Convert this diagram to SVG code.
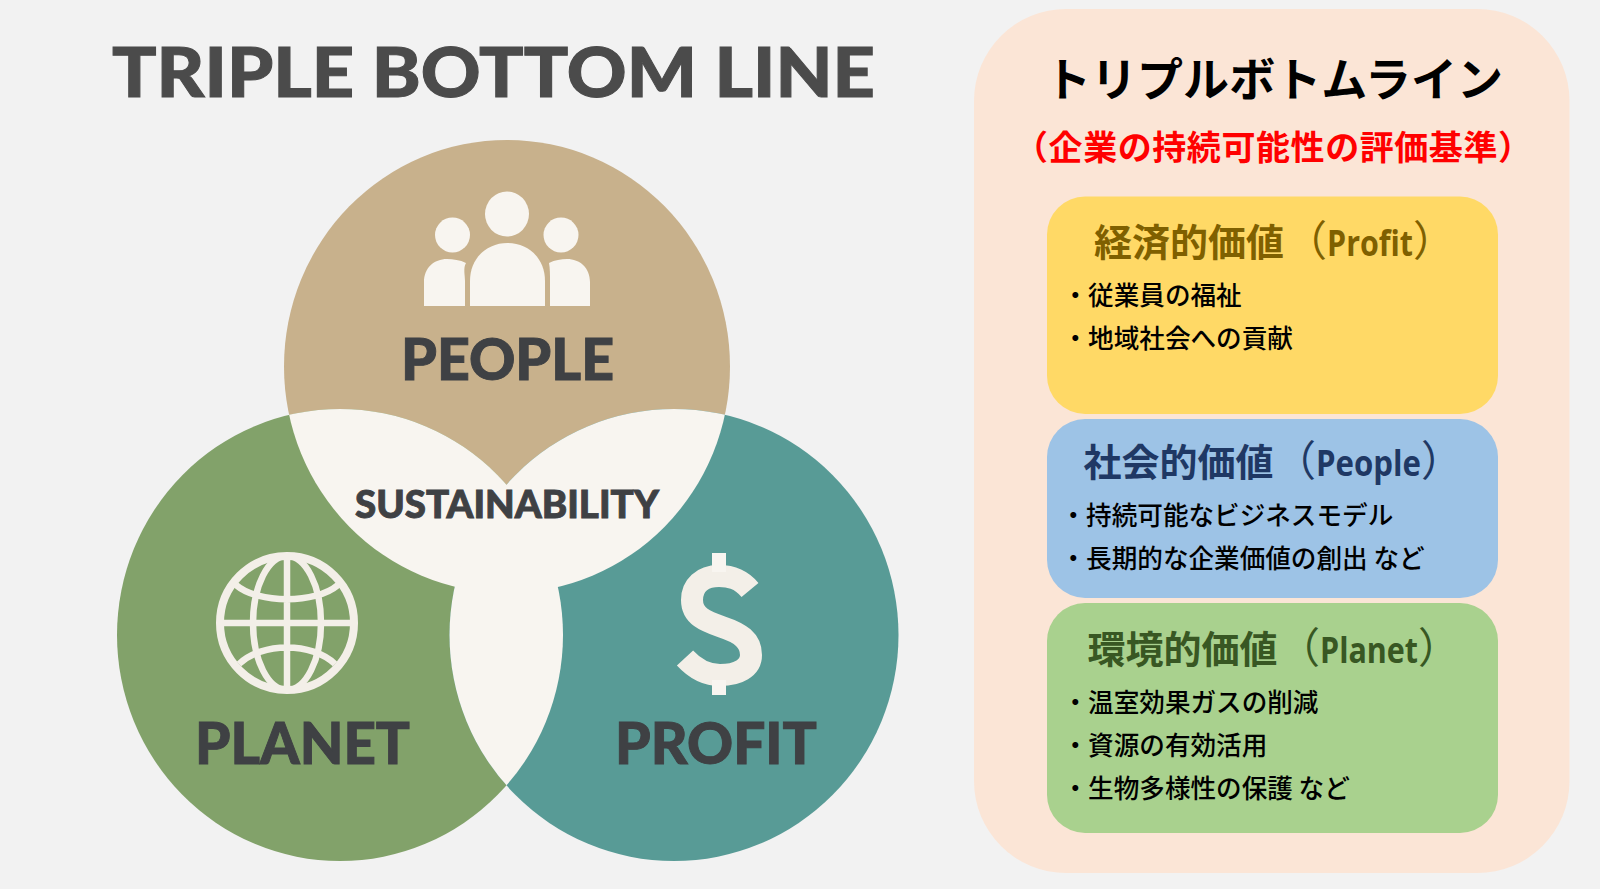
<svg xmlns="http://www.w3.org/2000/svg" width="1600" height="889" viewBox="0 0 1600 889">
<style>
.lbl{font-family:"Lato","Inter","Liberation Sans",sans-serif;font-weight:900;fill:#3f4144;stroke:#3f4144;stroke-width:.9}
.ic{fill:#f8f5f0}
.gl{fill:none;stroke:#f3efe8;stroke-width:6.5}
.jp{font-family:"Noto Sans CJK JP","Noto Sans",sans-serif}
.h{font-weight:700;font-size:38px}
.p{font-weight:400;font-size:42px}
.l{font-family:"Open Sans","Noto Sans",sans-serif;font-weight:700;font-size:36px}
.b{font-weight:500;font-size:25.6px;fill:#000}
.box{stroke:none}
</style>
<defs>
<clipPath id="cPeople"><ellipse cx="507" cy="366.500" rx="223" ry="226.500"/></clipPath>
<clipPath id="cPlanet"><ellipse cx="340" cy="635" rx="223" ry="226"/></clipPath>
</defs>
<rect width="1600" height="889" fill="#f2f2f2"/>
<text id="main-title" class="lbl" x="112" y="97" font-size="68" textLength="763" lengthAdjust="spacingAndGlyphs" style="fill:#4b4b4b;stroke:#4b4b4b;stroke-width:1">TRIPLE BOTTOM LINE</text>
<g id="venn">
<g id="people">
<ellipse cx="507" cy="366.500" rx="223" ry="226.500" fill="#c8b18c"/>
</g>
<g id="planet">
<ellipse cx="340" cy="635" rx="223" ry="226" fill="#82a26a"/>
</g>
<g id="profit">
<ellipse cx="674" cy="635" rx="224.500" ry="226" fill="#589b96"/>
</g>
<g id="sustainability">
<ellipse cx="340" cy="635" rx="223" ry="226" fill="#f8f5f0" clip-path="url(#cPeople)"/>
<ellipse cx="674" cy="635" rx="224.500" ry="226" fill="#f8f5f0" clip-path="url(#cPeople)"/>
<ellipse cx="674" cy="635" rx="224.500" ry="226" fill="#f8f5f0" clip-path="url(#cPlanet)"/>
<text class="lbl" x="355" y="518" font-size="38" textLength="304" lengthAdjust="spacingAndGlyphs">SUSTAINABILITY</text>
</g>
<g id="people-content">
<ellipse class="ic" cx="507" cy="214" rx="22" ry="22.500"/>
<ellipse class="ic" cx="452.500" cy="235" rx="17.500" ry="17.500"/>
<ellipse class="ic" cx="561" cy="235" rx="17.500" ry="17.500"/>
<path class="ic" d="M470 306V281C470 258 487 243 507.500 243C528 243 545 258 545 281V306Z"/>
<path class="ic" d="M424 306V282C424 268 434 259 447 259C453 259 460 260 466 263C463 268 465 275 465 281V306Z"/>
<path class="ic" d="M590 306V282C590 268 580 259 567 259C561 259 555 260 549 263C550 268 550 275 550 281V306Z"/>
<text class="lbl" x="401" y="380" font-size="57" textLength="213" lengthAdjust="spacingAndGlyphs">PEOPLE</text>
</g>
<g id="planet-content">
<circle class="gl" cx="287" cy="623" r="67" style="stroke-width:8"/>
<ellipse class="gl" cx="287" cy="623" rx="34" ry="67"/>
<path class="gl" d="M287 556V690M220 623H354M236 585C258 604 316 604 338 585M239 664C262 642 312 642 335 664"/>
<text class="lbl" x="195" y="764" font-size="57" textLength="215" lengthAdjust="spacingAndGlyphs">PLANET</text>
</g>
<g id="profit-content">
<path d="M750 590C740 578 729 576 719 576C702 576 692 586 692 600C692 616 705 621 722 627C740 633 751 640 751 655C751 668 738 675 720 675C708 675 696 670 685 658" fill="none" stroke="#f3efe8" stroke-width="22"/>
<path class="ic" d="M712 553H726V572H712ZM712 680H726V695H712Z"/>
<text class="lbl" x="615" y="764" font-size="57" textLength="202" lengthAdjust="spacingAndGlyphs">PROFIT</text>
</g>
</g>
<g id="panel">
<rect x="974" y="9" width="595.500" height="864" rx="92" ry="92" fill="#fbe5d6"/>
<text class="jp" x="1045" y="96" font-size="46" font-weight="700" textLength="458" fill="#000">トリプルボトムライン</text>
<text class="jp" x="1014" y="160" font-size="34" font-weight="700" textLength="518" fill="#f00">（企業の持続可能性の評価基準）</text>
</g>
<g id="box-profit">
<rect class="box" x="1047" y="196.500" width="451" height="217.500" rx="38" fill="#ffd966"/>
<text class="jp h" x="1094" y="256" fill="#7f6000">経済的価値<tspan class="p" dx="1">（</tspan><tspan class="l" textLength="86" lengthAdjust="spacingAndGlyphs">Profit</tspan><tspan class="p">）</tspan></text>
<text class="jp b" x="1062.500" y="305">・従業員の福祉</text>
<text class="jp b" x="1062.500" y="348">・地域社会への貢献</text>
</g>
<g id="box-people">
<rect class="box" x="1047" y="419" width="451" height="179" rx="38" fill="#9dc3e6"/>
<text class="jp h" x="1083.500" y="476" fill="#1f3864">社会的価値<tspan class="p" dx="0.500">（</tspan><tspan class="l" textLength="105" lengthAdjust="spacingAndGlyphs">People</tspan><tspan class="p">）</tspan></text>
<text class="jp b" x="1060.500" y="525">・持続可能なビジネスモデル</text>
<text class="jp b" x="1060.500" y="568">・長期的な企業価値の創出 など</text>
</g>
<g id="box-planet">
<rect class="box" x="1047" y="603" width="451" height="230" rx="38" fill="#a9d18e"/>
<text class="jp h" x="1087.500" y="663" fill="#385723">環境的価値<tspan class="p" dx="0.500">（</tspan><tspan class="l" textLength="98" lengthAdjust="spacingAndGlyphs">Planet</tspan><tspan class="p">）</tspan></text>
<text class="jp b" x="1062.500" y="712">・温室効果ガスの削減</text>
<text class="jp b" x="1062.500" y="755">・資源の有効活用</text>
<text class="jp b" x="1062.500" y="798">・生物多様性の保護 など</text>
</g>
</svg>
